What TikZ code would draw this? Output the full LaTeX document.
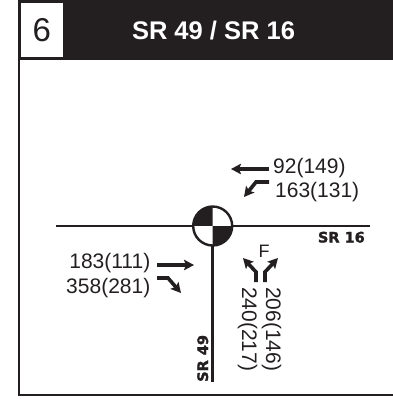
\documentclass[tikz,border=0pt]{standalone}
\usepackage{fontspec}
\setmainfont{Liberation Sans}
\newfontfamily\roadfont[BoldFeatures={FakeBold=1.6}]{DejaVu Sans}
\usepackage{tikz}
\usetikzlibrary{positioning, arrows.meta}
\definecolor{signInk}{RGB}{35, 31, 32}

\begin{document}
\begin{tikzpicture}[
    x=1pt, y=-1pt,
    road/.style={line width=2.7pt, signInk},
    move/.style={line width=3.6pt, signInk, -{Stealth[length=10pt, width=10.5pt, inset=2pt]}},
    vol/.style={inner sep=0pt, font=\fontsize{21}{23}\selectfont, text=signInk},
    roadname/.style={inner sep=0pt, font=\roadfont\bfseries\fontsize{14.5}{15}\selectfont, text=signInk}
  ]
    \useasboundingbox (0,0) rectangle (393,400);

    % Frame and header
    \fill[signInk] (18,0) rectangle (393,60);
    \node[fill=white, minimum width=42pt, minimum height=54pt, inner sep=0pt, anchor=north west,
          font=\fontsize{33}{35}\selectfont, text=signInk] (NUM) at (20.7,3) {6};
    \node[text=white, inner sep=0pt, font=\bfseries\fontsize{25.5}{27}\selectfont] (TITLE) at (213.5,31) {SR 49 / SR 16};
    \coordinate (TL) at (19,60);
    \coordinate (BL) at (19,395);
    \coordinate (BR) at (393,395);
    \draw[line width=2.6pt, signInk] (TL) -- (BL) -- (BR);

    % Roads
    \coordinate (W) at (56,226);
    \coordinate (E) at (369.5,226);
    \coordinate (S) at (212.7,382);
    \node[circle, minimum size=39pt, inner sep=0pt] (SIG) at (212.7,226) {};
    \draw[road] (W) -- (E);
    \draw[road] (SIG.center) -- (S);
    \fill[white] (SIG.center) circle (19.5);
    \fill[signInk] (SIG.center) -- (SIG.north) arc[start angle=-90, end angle=-180, radius=19.5] -- cycle;
    \fill[signInk] (SIG.center) -- (SIG.south) arc[start angle=90, end angle=0, radius=19.5] -- cycle;
    \draw[line width=2.4pt, signInk] (SIG.center) circle (19.5);

    \node[roadname, anchor=base east] (R16) at (365,242.5) {SR 16};
    \node[roadname, rotate=90, anchor=base west] (R49) at (208,382) {SR 49};

    % Eastbound
    \node[vol, anchor=base east] (EBT) at (150.5,268) {183(111)};
    \node[vol, anchor=base east] (EBR) at (150.5,293) {358(281)};
    \coordinate (EBTs) at (157,265);
    \coordinate (EBTe) at (194,265);
    \coordinate (EBRs) at (157,278);
    \coordinate (EBRe) at (181,293);
    \draw[move] (EBTs) -- (EBTe);
    \draw[move] (EBRs) -- (168,278) -- (EBRe);

    % Westbound
    \node[vol, anchor=base west] (WBT) at (273,173.5) {92(149)};
    \node[vol, anchor=base west] (WBL) at (275,197) {163(131)};
    \coordinate (WBTs) at (269,169);
    \coordinate (WBTe) at (231,169);
    \coordinate (WBLs) at (269,182);
    \coordinate (WBLe) at (244,197);
    \draw[move] (WBTs) -- (WBTe);
    \draw[move] (WBLs) -- (256,182) -- (WBLe);

    % Northbound
    \node[inner sep=0pt, font=\fontsize{18}{19}\selectfont, text=signInk] (FREE) at (264,251) {F};
    \coordinate (NBLe) at (243,258);
    \coordinate (NBRe) at (278,258);
    \draw[move] (256,282) -- (256,272) -- (NBLe);
    \draw[move] (265,282) -- (265,272) -- (NBRe);
    \node[vol, rotate=-90, anchor=base west] (NBT) at (242,287) {240(217)};
    \node[vol, rotate=-90, anchor=base west] (NBX) at (266,287) {206(146)};
  \end{tikzpicture}
\end{document}
